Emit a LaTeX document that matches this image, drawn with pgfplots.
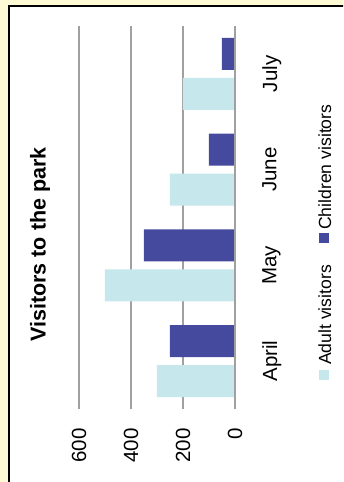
\documentclass[border=0pt]{standalone}
\usepackage{pgfplots}
\pgfplotsset{compat=1.18}
\usepackage{fontspec}
\setmainfont{Liberation Sans}
\definecolor{bgyellow}{HTML}{FFFAD6}
\definecolor{adult}{HTML}{C6E7EB}
\definecolor{child}{HTML}{454A9F}
\definecolor{gridgray}{HTML}{A0A0A0}
\begin{document}
\begin{tikzpicture}[x=1pt,y=1pt]
\useasboundingbox (0,0) rectangle (343,482);
\clip (0,0) rectangle (343,482);
\fill[bgyellow] (0,0) rectangle (343,482);
\draw[black, line width=2pt, fill=white] (8.5,-10) rectangle (360,476);
\node[rotate=90, font=\fontsize{21.5}{24}\selectfont\bfseries, inner sep=0pt] at (40,237.5) {Visitors to the park};
\begin{axis}[
  at={(79pt,73pt)}, anchor=south west,
  scale only axis, width=156pt, height=383pt,
  xbar, x dir=reverse,
  xmin=0, xmax=600, ymin=-0.5, ymax=3.5,
  xtick={0,200,400,600},
  ytick={0,1,2,3}, yticklabels={April,May,June,July},
  yticklabel pos=right,
  axis line style={draw=none},
  major tick length=0pt,
  xmajorgrids,
  major grid style={gridgray, line width=1.5pt},
  /pgf/number format/assume math mode=true,
  xticklabel style={rotate=90, anchor=east, inner sep=0pt, font=\fontsize{20.5}{24}\selectfont},
  yticklabel style={rotate=90, anchor=north, inner sep=0pt, font=\fontsize{20.5}{24}\selectfont},
  xticklabel shift=19pt,
  yticklabel shift=27pt,
  bar width=0.334,
]
\addplot[fill=adult, draw=none, bar shift=-0.209] coordinates {(300,0) (500,1) (250,2) (200,3)};
\addplot[fill=child, draw=none, bar shift=0.209] coordinates {(250,0) (350,1) (100,2) (50,3)};
\draw[gridgray, line width=1.5pt] (axis cs:0,-0.5) -- (axis cs:0,3.5);
\end{axis}
% legend
\fill[adult] (319,102) rectangle (329,112);
\node[rotate=90, anchor=base west, inner sep=0pt, font=\fontsize{17.6}{20}\selectfont] at (331,117) {Adult visitors};
\fill[child] (319,239) rectangle (329,249);
\node[rotate=90, anchor=base west, inner sep=0pt, font=\fontsize{17.6}{20}\selectfont] at (331,252) {Children visitors};
\end{tikzpicture}
\end{document}
